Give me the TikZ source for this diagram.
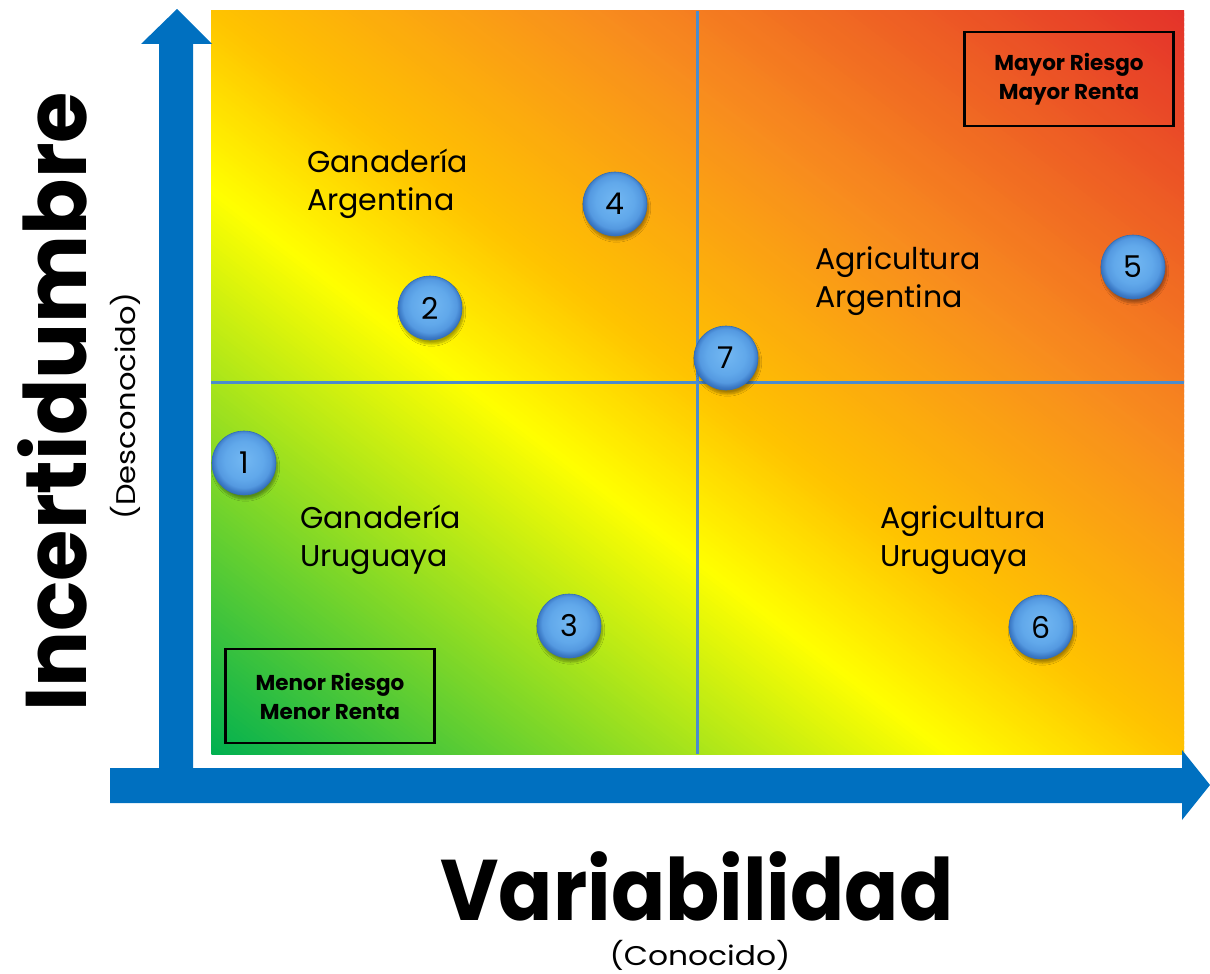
\documentclass[tikz,border=0pt]{standalone}
\usepackage{fontspec}
\setmainfont{Poppins}
\usetikzlibrary{shadows.blur}
\definecolor{axisblue}{RGB}{0,112,192}
\definecolor{gridblue}{RGB}{75,140,205}
\definecolor{bubbleedge}{RGB}{52,110,180}
\pgfdeclareradialshading{bubbleshade}{\pgfpoint{0bp}{3bp}}{rgb(0bp)=(0.45,0.72,0.95); rgb(15bp)=(0.38,0.66,0.92); rgb(21bp)=(0.33,0.60,0.88); rgb(25bp)=(0.22,0.46,0.76); rgb(50bp)=(0.22,0.46,0.76)}
\tikzset{
  bubble/.style={circle, minimum size=64pt, inner sep=0pt, shade, shading=bubbleshade,
    draw=bubbleedge, line width=0.6pt,
    blur shadow={shadow xshift=1.5pt, shadow yshift=-4pt, shadow blur steps=8, shadow opacity=35},
    font=\fontsize{30}{30}\selectfont, text=black},
  qlabel/.style={anchor=north west, inner sep=0pt, align=left, font=\fontsize{30}{38}\selectfont},
  riskbox/.style={draw=black, line width=2.2pt, minimum width=209pt, minimum height=94pt,
    align=center, inner sep=0pt, font=\bfseries\fontsize{21.5}{29}\selectfont},
  gridline/.style={gridblue, line width=3pt},
  bigtitle/.style={inner sep=0pt, font=\bfseries\fontsize{86}{86}\selectfont},
  subtitle/.style={inner sep=0pt, font=\fontsize{27}{27}\selectfont}
}
\begin{document}
\begin{tikzpicture}[x=1pt,y=-1pt]
\useasboundingbox (0,0) rectangle (1210,974);
% gradient matrix, drawn as thin diagonal strips
\begin{scope}[shift={(211pt,-754pt)}, x=973pt, y=743pt]
  \clip (0,0) rectangle (1,1);
  \foreach \i in {0,...,299}{
    \pgfmathsetmacro\sm{(\i+0.5)/300}
    \pgfmathsetmacro\cR{(\sm<0.38 ? 255*\sm/0.38 : (\sm<0.5 ? 255 : (\sm<0.7 ? 255-7*(\sm-0.5)/0.2 : 248-20*(\sm-0.7)/0.3)))/255}
    \pgfmathsetmacro\cG{(\sm<0.38 ? 176+79*\sm/0.38 : (\sm<0.5 ? 255-60*(\sm-0.38)/0.12 : (\sm<0.7 ? 195-55*(\sm-0.5)/0.2 : 140-90*(\sm-0.7)/0.3)))/255}
    \pgfmathsetmacro\cB{(\sm<0.38 ? 80-80*\sm/0.38 : (\sm<0.5 ? 0 : (\sm<0.7 ? 30*(\sm-0.5)/0.2 : 30+12*(\sm-0.7)/0.3)))/255}
    \definecolor{stripc}{rgb}{\cR,\cG,\cB}
    \pgfmathsetmacro\la{2*\i/300}
    \pgfmathsetmacro\lb{2*(\i+1)/300+0.004}
    \fill[stripc] (-1,{\la+1}) -- (2,{\la-2}) -- (2,{\lb-2}) -- (-1,{\lb+1}) -- cycle;
  }
\end{scope}
% quadrant lines
\coordinate (vtop) at (697,11);
\coordinate (vbot) at (697,754);
\coordinate (hleft) at (211,382);
\coordinate (hright) at (1184,382);
\draw[gridline] (vtop) -- (vbot);
\draw[gridline] (hleft) -- (hright);
% axes
\fill[axisblue] (159,803) -- (159,44) -- (141,44) -- (177,9) -- (212,44) -- (193,44) -- (193,768)
  -- (1182,768) -- (1182,750) -- (1210,785) -- (1182,820) -- (1182,803) -- (110,803) -- (110,768) -- (159,768) -- cycle;
% labels
\node[qlabel] (ga) at (307,149) {Ganadería\\Argentina};
\node[qlabel] (aa) at (815,246) {Agricultura\\Argentina};
\node[qlabel] (gu) at (300,505) {Ganadería\\Uruguaya};
\node[qlabel] (au) at (880,505) {Agricultura\\Uruguaya};
\node[riskbox] (mayor) at (1069,79) {Mayor Riesgo\\Mayor Renta};
\node[riskbox] (menor) at (330,696) {Menor Riesgo\\Menor Renta};
% bubbles
\node[bubble] (b1) at (244,463) {1};
\node[bubble] (b2) at (430,308) {2};
\node[bubble] (b3) at (569,626) {3};
\node[bubble] (b4) at (615,204) {4};
\node[bubble] (b5) at (1133,267) {5};
\node[bubble] (b6) at (1041,627) {6};
\node[bubble] (b7) at (726,358) {7};
% axis titles
\node[bigtitle] (var) at (697,886) {\scalebox{0.93}[1]{Variabilidad}};
\node[subtitle] (con) at (700,955) {\scalebox{1.16}[1]{(Conocido)}};
\node[bigtitle, rotate=90] (inc) at (52,402) {\scalebox{0.967}[1]{Incertidumbre}};
\node[subtitle, rotate=90] (des) at (125,406) {\scalebox{1.13}[1]{(Desconocido)}};
\end{tikzpicture}
\end{document}
